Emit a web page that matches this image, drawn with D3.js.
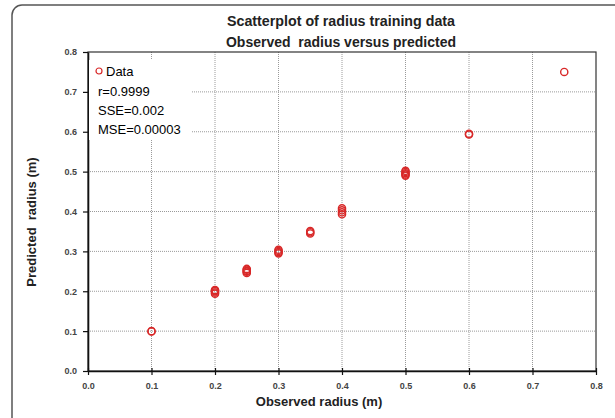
<!DOCTYPE html>
<html>
<head>
<meta charset="utf-8">
<script src="https://cdn.jsdelivr.net/npm/d3@7/dist/d3.min.js"></script>
<style>
  body { margin: 0; background: #fff; }
  svg { display: block; font-family: "Liberation Sans", Arial, sans-serif; }
</style>
</head>
<body>
<div id="chart"></div>
<script>
// observed radius (m) and predicted radius (m)
var observed  = [0.1, 0.1,
                 0.2, 0.2, 0.2, 0.2, 0.2,
                 0.25, 0.25, 0.25, 0.25, 0.25,
                 0.3, 0.3, 0.3, 0.3,
                 0.35, 0.35, 0.35,
                 0.4, 0.4, 0.4, 0.4,
                 0.5, 0.5, 0.5, 0.5, 0.5,
                 0.6, 0.6,
                 0.75];
var predicted = [0.100, 0.099,
                 0.194, 0.197, 0.200, 0.202, 0.203,
                 0.246, 0.249, 0.251, 0.254, 0.256,
                 0.295, 0.298, 0.301, 0.304,
                 0.345, 0.348, 0.351,
                 0.393, 0.398, 0.403, 0.408,
                 0.490, 0.493, 0.496, 0.499, 0.502,
                 0.593, 0.595,
                 0.750];
var tickVals = [0, 0.1, 0.2, 0.3, 0.4, 0.5, 0.6, 0.7, 0.8];
var titleLines = ['Scatterplot of radius training data', 'Observed  radius versus predicted'];
var statLines = ['r=0.9999', 'SSE=0.002', 'MSE=0.00003'];

(function(){
    var W = 615, H = 418;
    var margin = { top: 52, right: 19, bottom: 47, left: 88 };
    var width = W - margin.left - margin.right;   // 508
    var height = H - margin.top - margin.bottom;  // 319
    var markColor = '#d82828';

    var root = d3.select('#chart').append('svg')
        .attr('width', W).attr('height', H);

    // outer chart frame (rounded, partly cut off on the right and bottom)
    root.append('rect')
        .attr('x', 12).attr('y', 5)
        .attr('width', 616).attr('height', 424)
        .attr('rx', 10).attr('ry', 10)
        .attr('fill', '#fff').attr('stroke', '#555').attr('stroke-width', 1.5);

    var svg = root.append('g')
        .attr('transform', 'translate(' + margin.left + ',' + margin.top + ')');

    var x = d3.scaleLinear().domain([0, 0.8]).range([0, width]);
    var y = d3.scaleLinear().domain([0, 0.8]).range([height, 0]);

    // gridlines
    svg.append('g')
        .selectAll('line')
        .data(tickVals.slice(1, -1))
        .enter().append('line')
        .attr('x1', function(d){ return x(d); }).attr('x2', function(d){ return x(d); })
        .attr('y1', 0).attr('y2', height)
        .attr('stroke', '#9a9a9a').attr('stroke-width', 1).attr('stroke-dasharray', '1,1');
    svg.append('g')
        .selectAll('line')
        .data(tickVals.slice(1, -1))
        .enter().append('line')
        .attr('y1', function(d){ return y(d); }).attr('y2', function(d){ return y(d); })
        .attr('x1', 0).attr('x2', width)
        .attr('stroke', '#9a9a9a').attr('stroke-width', 1).attr('stroke-dasharray', '1,1');

    // plot frame
    svg.append('rect')
        .attr('x', 0).attr('y', 0).attr('width', width).attr('height', height)
        .attr('fill', 'none').attr('stroke', '#333').attr('stroke-width', 1.2);

    // axes
    var xAxis = d3.axisBottom(x).tickValues(tickVals).tickFormat(d3.format('.1f'))
        .tickSizeInner(4).tickSizeOuter(0).tickPadding(8);
    var yAxis = d3.axisLeft(y).tickValues(tickVals).tickFormat(d3.format('.1f'))
        .tickSizeInner(5).tickSizeOuter(0).tickPadding(6);

    var gx = svg.append('g').attr('transform', 'translate(0,' + height + ')').call(xAxis);
    var gy = svg.append('g').call(yAxis);
    [gx, gy].forEach(function(g){
        g.select('.domain').attr('stroke', '#111').attr('stroke-width', 1.6);
        g.selectAll('.tick line').attr('stroke', '#111').attr('stroke-width', 1.2);
        g.selectAll('text')
            .attr('fill', '#444')
            .style('font-size', '9px')
            .style('font-weight', 'bold');
    });
    // x ticks cross the axis a little
    gx.selectAll('.tick line').attr('y1', -3);

    // text box with legend and statistics
    var box = svg.append('g').attr('transform', 'translate(1,8)');
    box.append('rect')
        .attr('x', 0).attr('y', 0).attr('width', 103).attr('height', 80)
        .attr('fill', '#fff');
    box.append('circle')
        .attr('cx', 10).attr('cy', 11).attr('r', 3)
        .attr('fill', 'none').attr('stroke', markColor).attr('stroke-width', 1.2);
    box.append('text')
        .attr('x', 17).attr('y', 16)
        .style('font-size', '13px').attr('fill', '#000')
        .text('Data');
    statLines.forEach(function(s, i){
        box.append('text')
            .attr('x', 9).attr('y', 36 + i * 19)
            .style('font-size', '13px').attr('fill', '#000')
            .text(s);
    });

    // data points
    var pts = observed.map(function(o, i){ return { o: o, p: predicted[i] }; });
    svg.append('g')
        .selectAll('circle')
        .data(pts)
        .enter().append('circle')
        .attr('cx', function(d){ return x(d.o); })
        .attr('cy', function(d){ return y(d.p); })
        .attr('r', 3.6)
        .attr('fill', 'none')
        .attr('stroke', markColor)
        .attr('stroke-width', 1.4);

    // titles
    titleLines.forEach(function(t, i){
        root.append('text')
            .attr('x', 341).attr('y', 26 + i * 21)
            .attr('text-anchor', 'middle')
            .style('font-size', '14px').style('font-weight', 'bold')
            .attr('fill', '#222')
            .attr('textLength', i === 0 ? 228 : 230)
            .attr('lengthAdjust', 'spacingAndGlyphs')
            .style('white-space', 'pre')
            .text(t);
    });

    root.append('text')
        .attr('x', 319).attr('y', 406)
        .attr('text-anchor', 'middle')
        .style('font-size', '13px').style('font-weight', 'bold')
        .attr('fill', '#222')
        .text('Observed radius (m)');

    root.append('text')
        .attr('transform', 'translate(36,222) rotate(-90)')
        .attr('text-anchor', 'middle')
        .style('font-size', '13px').style('font-weight', 'bold')
        .attr('fill', '#222')
        .style('white-space', 'pre')
        .text('Predicted  radius (m)');
})();
</script>
</body>
</html>
